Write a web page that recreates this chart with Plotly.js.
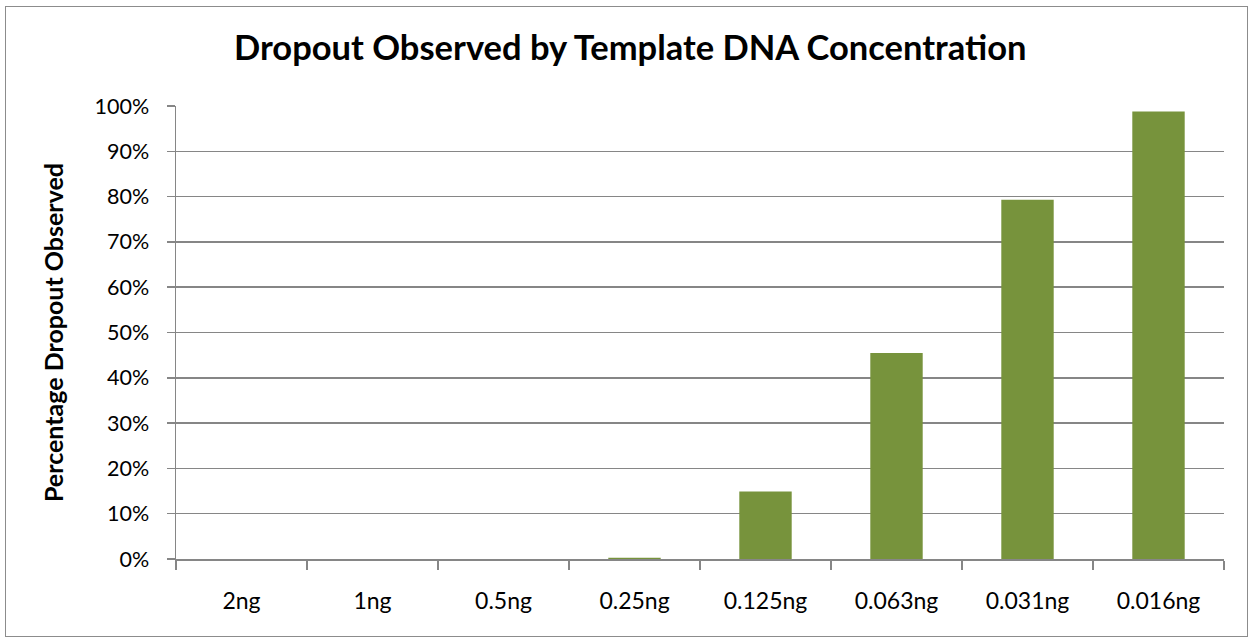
<!DOCTYPE html>
<html>
<head>
<meta charset="utf-8">
<script src="https://cdn.plot.ly/plotly-3.0.1.min.js"></script>
<style>
html,body{margin:0;padding:0;background:#fff;}
#wrap{position:relative;width:1253px;height:642px;}
#chart{width:1253px;height:642px;}
#frame{position:absolute;left:5px;top:6px;width:1241px;height:629px;border:1.5px solid #8c8c8c;pointer-events:none;}
</style>
</head>
<body>
<div id="wrap"><div id="chart"></div><div id="frame"></div></div>
<script>
const categories = ["2ng","1ng","0.5ng","0.25ng","0.125ng","0.063ng","0.031ng","0.016ng"];
const dropout = [0, 0, 0, 0.003, 0.149, 0.455, 0.793, 0.988];
const yTickVals = [0,0.1,0.2,0.3,0.4,0.5,0.6,0.7,0.8,0.9,1.0];
const yTickText = ["0%","10%","20%","30%","40%","50%","60%","70%","80%","90%","100%"];

const FONT = "Lato, 'Open Sans', sans-serif";
const trace = {
  type: "bar",
  x: categories,
  y: dropout,
  marker: {color: "#77933C", line: {width: 0}},
  hoverinfo: "x+y"
};
const layout = {
  width: 1253, height: 642,
  margin: {l: 176, r: 29, t: 106, b: 83},
  paper_bgcolor: "#fff", plot_bgcolor: "#fff",
  bargap: 0.6,
  showlegend: false,
  font: {family: FONT, color: "#000", size: 20},
  title: {text: "<b>Dropout Observed by Template DNA Concentration</b>", x: 0.503, xref: "container", xanchor: "center",
          y: 1, yref: "container", yanchor: "top", pad: {t: 36},
          font: {family: FONT, size: 34.5, color: "#000"}},
  xaxis: {
    type: "category",
    showline: true, linecolor: "#868686", linewidth: 1.5,
    ticks: "outside", tickson: "boundaries", ticklen: 9, tickcolor: "#868686", tickwidth: 1.5,
    showgrid: false, zeroline: false,
    tickfont: {family: FONT, size: 23, color: "#000"},
    ticklabelstandoff: 21
  },
  yaxis: {
    range: [0, 1], tickvals: yTickVals, ticktext: yTickText,
    showline: true, linecolor: "#868686", linewidth: 1.5,
    ticks: "outside", ticklen: 8, tickcolor: "#868686", tickwidth: 1.5,
    showgrid: true, gridcolor: "#868686", gridwidth: 1.5,
    zeroline: false,
    tickfont: {family: FONT, size: 21.5, color: "#000"},
    ticklabelstandoff: 13,
    title: {text: "<b>Percentage Dropout Observed</b>", font: {family: FONT, size: 25, color: "#000"}, standoff: 24}
  }
};
Plotly.newPlot("chart", [trace], layout, {displayModeBar: false, staticPlot: true});
</script>
</body>
</html>
